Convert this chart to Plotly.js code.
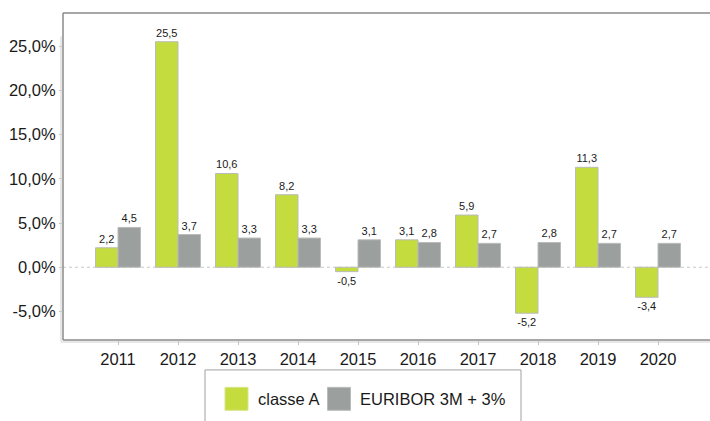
<!DOCTYPE html>
<html>
<head>
<meta charset="utf-8">
<script src="https://cdn.plot.ly/plotly-3.0.1.min.js"></script>
<style>
  html, body { margin: 0; padding: 0; background: #ffffff; }
  #chart { width: 710px; height: 421px; }
</style>
</head>
<body>
<div id="chart"></div>
<script>
const years = ['2011','2012','2013','2014','2015','2016','2017','2018','2019','2020'];
const classeA = [2.2, 25.5, 10.6, 8.2, -0.5, 3.1, 5.9, -5.2, 11.3, -3.4];
const euribor = [4.5, 3.7, 3.3, 3.3, 3.1, 2.8, 2.7, 2.8, 2.7, 2.7];
const seriesNames = ['classe A', 'EURIBOR 3M + 3%'];
const seriesColors = ['#c5dc3e', '#9b9f9e'];
const yTickVals = [-5, 0, 5, 10, 15, 20, 25];
const yTickText = ['-5,0%', '0,0%', '5,0%', '10,0%', '15,0%', '20,0%', '25,0%'];

const W = 710, H = 421;
const M = {l: 63, r: 0, t: 12.5, b: 80.5};
const PW = W - M.l - M.r, PH = H - M.t - M.b;
const px = x => (x - M.l) / PW;
const py = y => (H - M.b - y) / PH;

const font = 'Arial, "Liberation Sans", Helvetica, sans-serif';

function barTrace(name, vals, color) {
  return {
    type: 'bar', name: name, x: years, y: vals,
    marker: {color: color, line: {color: '#b9bcb9', width: 1}},
    texttemplate: '%{y:.1f}', textposition: 'outside',
    textfont: {family: font, size: 11, color: '#1a1a1a'},
    constraintext: 'none', cliponaxis: false,
    hoverinfo: 'x+y+name'
  };
}

const data = [
  barTrace(seriesNames[0], classeA, seriesColors[0]),
  barTrace(seriesNames[1], euribor, seriesColors[1])
];

const lineCol = '#8a8a8a';
const shapes = [
  {type: 'line', xref: 'paper', yref: 'y', x0: 0, x1: 1, y0: 0, y1: 0,
   line: {color: '#c8c8c8', width: 1, dash: 'dot'}, layer: 'below'},
  {type: 'line', xref: 'paper', yref: 'paper', x0: 0, x1: 1, y0: 1, y1: 1, line: {color: lineCol, width: 1.5}},
  {type: 'line', xref: 'paper', yref: 'paper', x0: 0, x1: 1, y0: 0, y1: 0, line: {color: lineCol, width: 1.5}},
  {type: 'line', xref: 'paper', yref: 'paper', x0: 0, x1: 0, y0: 0, y1: 1, line: {color: lineCol, width: 1.5}},
  {type: 'line', xref: 'paper', yref: 'paper', x0: px(61), x1: px(61), y0: py(342), y1: py(36), line: {color: '#cfcfcf', width: 1}},
  {type: 'line', xref: 'paper', yref: 'paper', x0: px(61), x1: 1, y0: py(342.5), y1: py(342.5), line: {color: '#cfcfcf', width: 1}},
  {type: 'rect', xref: 'paper', yref: 'paper', x0: px(205), x1: px(521), y0: py(430), y1: py(370.5),
   line: {color: '#a0a0a0', width: 1}, fillcolor: 'rgba(0,0,0,0)'},
  {type: 'rect', xref: 'paper', yref: 'paper', x0: px(225), x1: px(248), y0: py(411), y1: py(388),
   line: {color: '#d8e58a', width: 1}, fillcolor: seriesColors[0]},
  {type: 'rect', xref: 'paper', yref: 'paper', x0: px(327.5), x1: px(350.5), y0: py(411), y1: py(388),
   line: {color: '#b9bcb9', width: 1}, fillcolor: seriesColors[1]}
];

const annotations = [
  {xref: 'paper', yref: 'paper', x: px(255.5), y: py(400), xanchor: 'left', yanchor: 'middle',
   text: seriesNames[0], showarrow: false, font: {family: font, size: 16.5, color: '#1a1a1a'}},
  {xref: 'paper', yref: 'paper', x: px(357.5), y: py(400), xanchor: 'left', yanchor: 'middle',
   text: seriesNames[1], showarrow: false, font: {family: font, size: 16.5, color: '#1a1a1a'}}
];

const layout = {
  width: W, height: H,
  margin: M,
  paper_bgcolor: '#ffffff', plot_bgcolor: '#ffffff',
  separators: ',.',
  showlegend: false,
  barmode: 'group', bargap: 0.25, bargroupgap: 0,
  font: {family: font, color: '#1a1a1a'},
  xaxis: {
    type: 'category', range: [-55/60, 592/60],
    showgrid: false, zeroline: false, showline: false,
    ticks: 'outside', ticklen: 4, tickcolor: '#c0c0c0', tickwidth: 1,
    tickfont: {family: font, size: 16.5, color: '#1a1a1a'}
  },
  yaxis: {
    range: [-8.23, 28.75],
    tickmode: 'array', tickvals: yTickVals, ticktext: yTickText,
    showgrid: false, zeroline: false, showline: false,
    ticks: 'outside', ticklen: 3, tickcolor: '#c8c8c8',
    tickfont: {family: font, size: 16.5, color: '#1a1a1a'}
  },
  shapes: shapes,
  annotations: annotations
};

Plotly.newPlot('chart', data, layout, {displayModeBar: false, staticPlot: true});
</script>
</body>
</html>
